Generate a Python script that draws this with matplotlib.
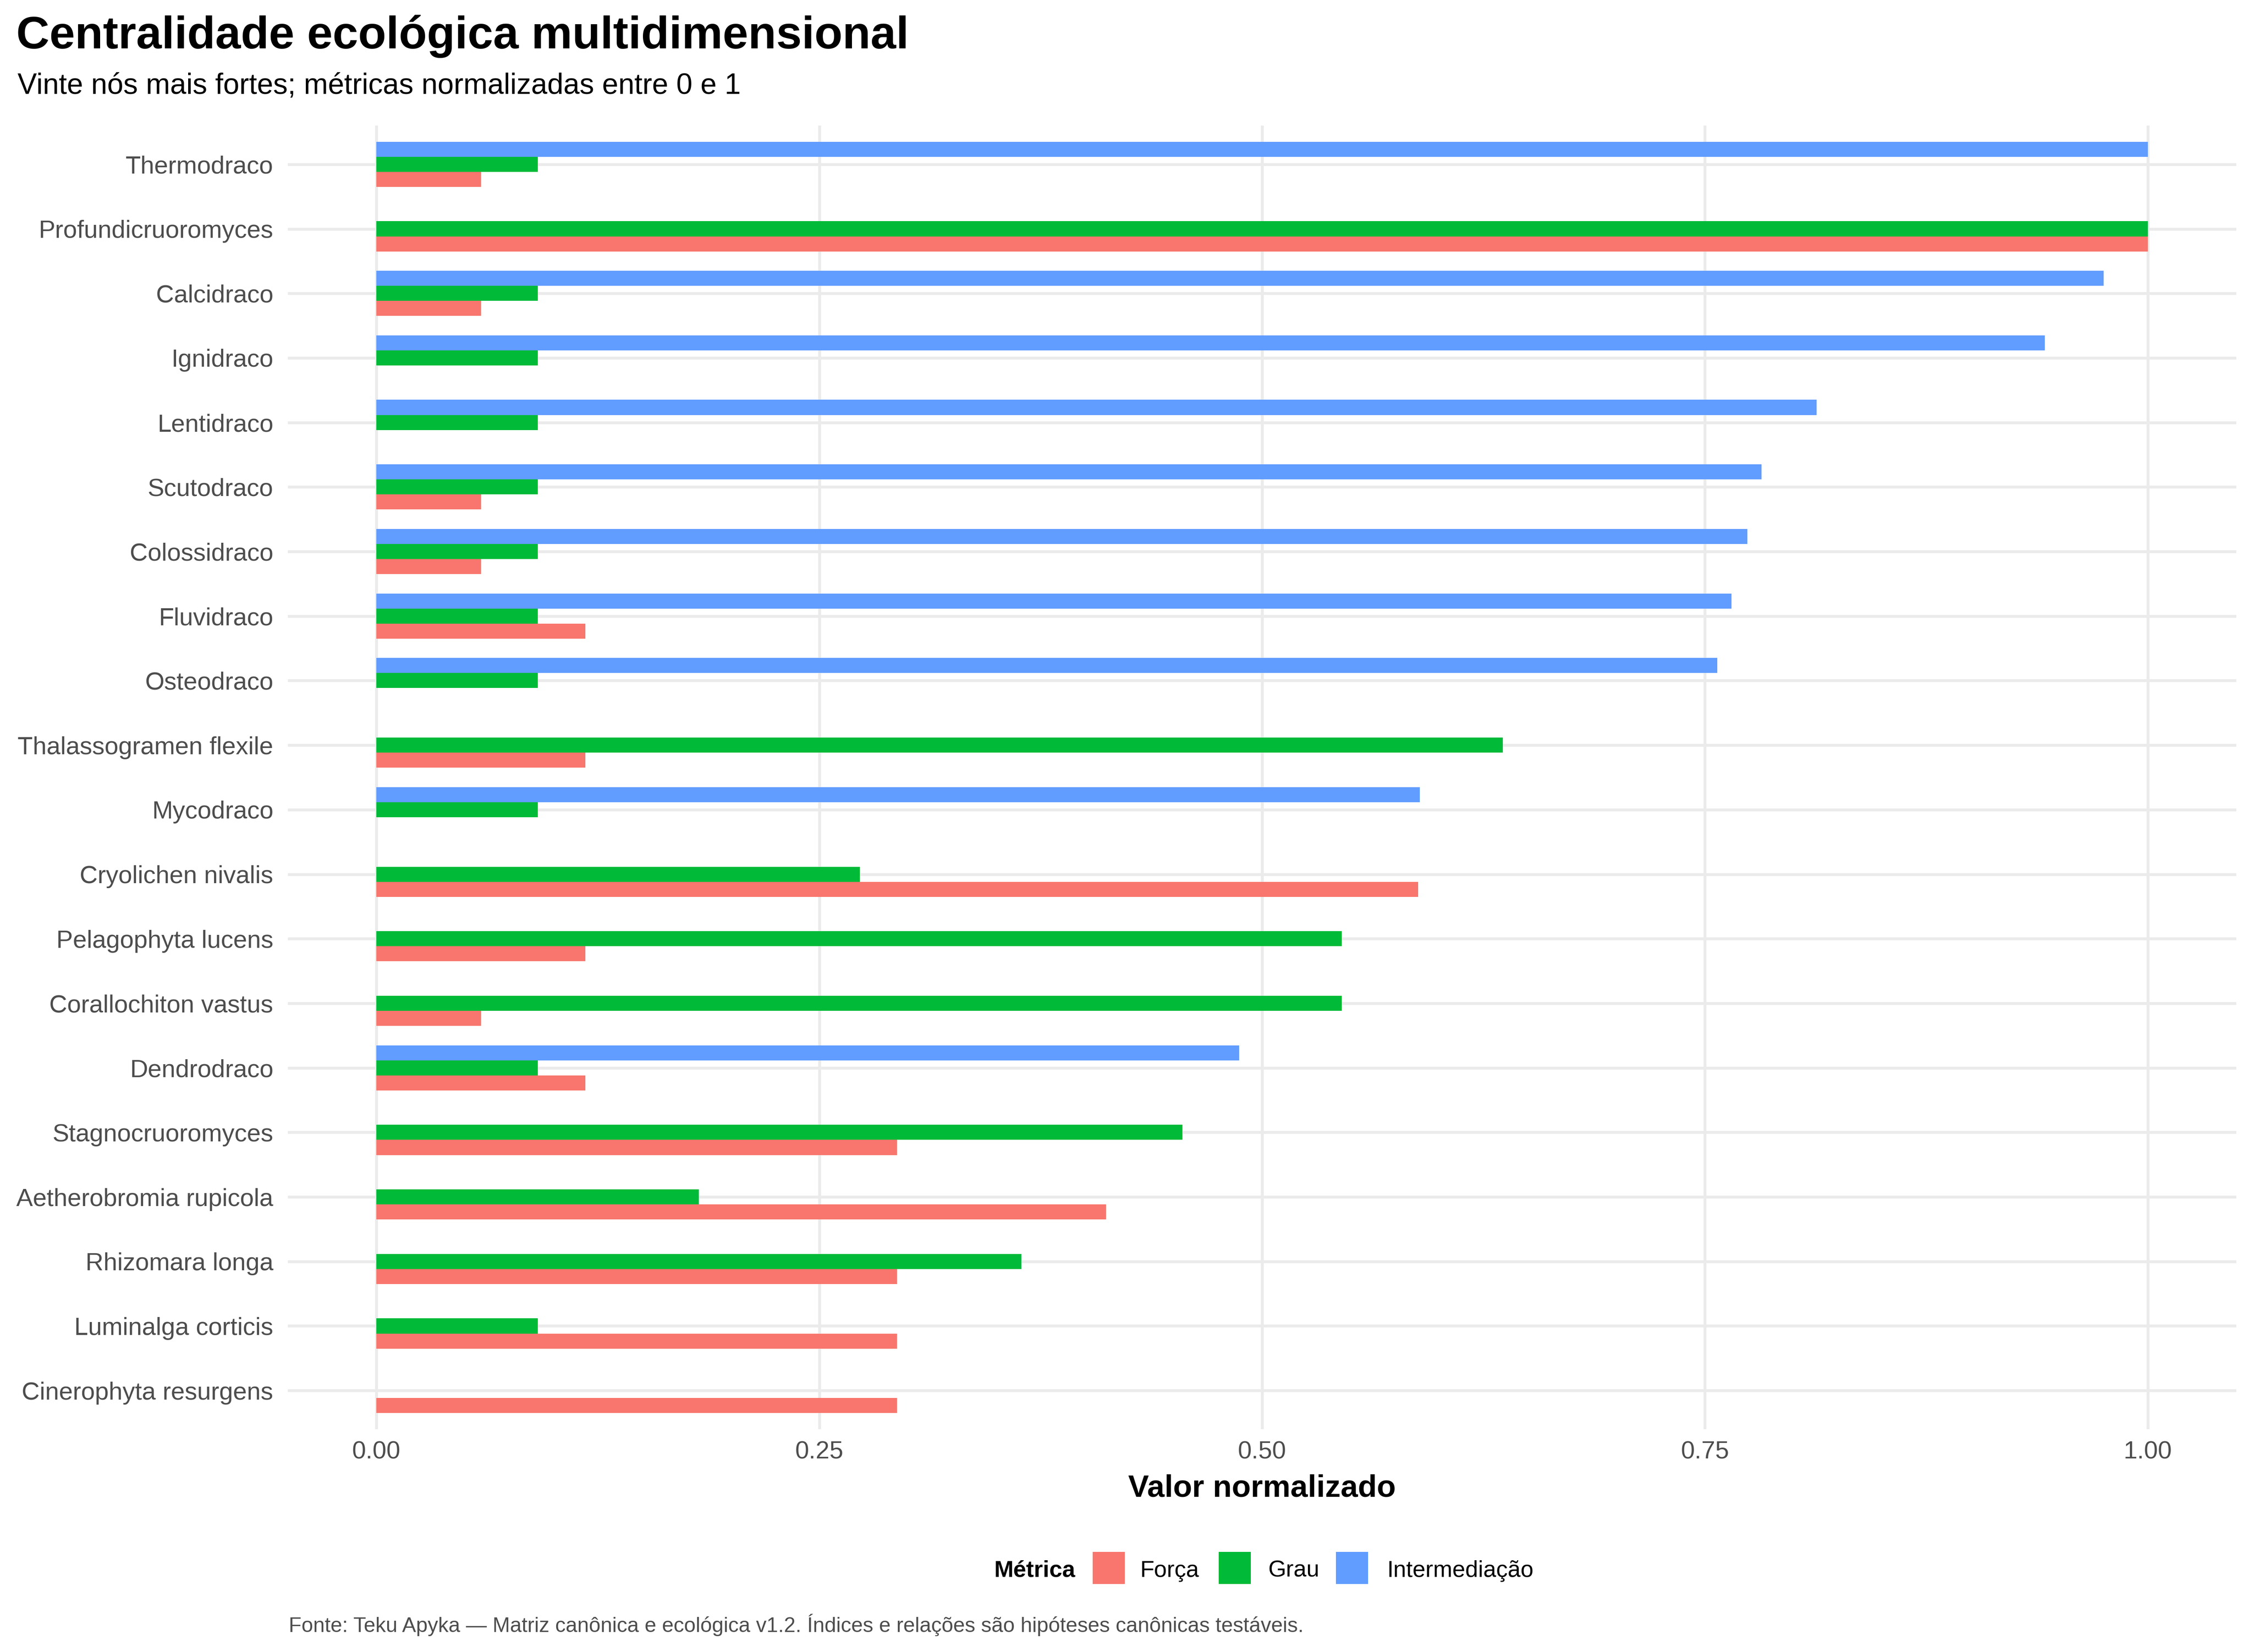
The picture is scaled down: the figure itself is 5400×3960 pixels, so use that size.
import numpy as np
import matplotlib
matplotlib.use("Agg")
import matplotlib.pyplot as plt
from matplotlib.patches import Rectangle

plt.rcParams['font.family'] = ['Liberation Sans', 'DejaVu Sans']

# top to bottom, as in the chart
nodes = ['Thermodraco', 'Profundicruoromyces', 'Calcidraco', 'Ignidraco',
         'Lentidraco', 'Scutodraco', 'Colossidraco', 'Fluvidraco',
         'Osteodraco', 'Thalassogramen flexile', 'Mycodraco',
         'Cryolichen nivalis', 'Pelagophyta lucens', 'Corallochiton vastus',
         'Dendrodraco', 'Stagnocruoromyces', 'Aetherobromia rupicola',
         'Rhizomara longa', 'Luminalga corticis', 'Cinerophyta resurgens']

forca = [0.059, 1.0, 0.059, 0.0, 0.0, 0.059, 0.059, 0.118, 0.0, 0.118,
         0.0, 0.588, 0.118, 0.059, 0.118, 0.294, 0.412, 0.294, 0.294, 0.294]
grau = [0.091, 1.0, 0.091, 0.091, 0.091, 0.091, 0.091, 0.091, 0.091, 0.636,
        0.091, 0.273, 0.545, 0.545, 0.091, 0.455, 0.182, 0.364, 0.091, 0.0]
intermed = [1.0, 0.0, 0.975, 0.942, 0.813, 0.782, 0.774, 0.765, 0.757, 0.0,
            0.589, 0.0, 0.0, 0.0, 0.487, 0.0, 0.0, 0.0, 0.0, 0.0]

metricas = ['Força', 'Grau', 'Intermediação']
cores = ['#F8766D', '#00BA38', '#619CFF']

W, H = 5400, 3960
DPI = 300
fig = plt.figure(figsize=(W / DPI, H / DPI), dpi=DPI)

def fx(px):
    return px / W

def fy(py):
    return 1 - py / H

ax = fig.add_axes([fx(690), fy(3426), fx(5360) - fx(690), fy(301) - fy(3426)])

n = len(nodes)
ypos = np.arange(n)[::-1]
bw = 0.7 / 3
for k, (vals, cor) in enumerate(zip([forca, grau, intermed], cores)):
    ax.barh(ypos + (k - 1) * bw, vals, height=bw, color=cor, linewidth=0, zorder=3)

ax.set_xlim(-0.05, 1.05)
ax.set_ylim(-0.6, n - 1 + 0.6)
xt = [0, 0.25, 0.5, 0.75, 1.0]
ax.set_xticks(xt)
ax.set_xticklabels(['0.00', '0.25', '0.50', '0.75', '1.00'])
ax.set_yticks(ypos)
ax.set_yticklabels(nodes)
ax.tick_params(length=0, labelsize=14.3, labelcolor='#4D4D4D')
ax.tick_params(axis='y', pad=8.4)
ax.tick_params(axis='x', pad=6.5)
ax.grid(True, color='#EBEBEB', linewidth=1.65, zorder=0)
ax.set_axisbelow(True)
for s in ax.spines.values():
    s.set_visible(False)

fig.text(fx(39), fy(116), 'Centralidade ecológica multidimensional',
         fontsize=26.4, fontweight='bold', va='baseline', ha='left')
fig.text(fx(42), fy(225), 'Vinte nós mais fortes; métricas normalizadas entre 0 e 1',
         fontsize=16.7, va='baseline', ha='left')
fig.text(fx(3025), fy(3588), 'Valor normalizado', fontsize=17.9,
         fontweight='bold', va='baseline', ha='center')

# legenda embaixo
fig.text(fx(2382), fy(3780), 'Métrica', fontsize=13.4, fontweight='bold',
         va='baseline', ha='left')
key_x = [2619, 2921, 3202]
lab_x = [2733, 3039, 3325]
for kx, lx, m, cor in zip(key_x, lab_x, metricas, cores):
    fig.patches.append(Rectangle((fx(kx), fy(3797)), fx(77), 77 / H,
                                 transform=fig.transFigure, color=cor, lw=0))
    fig.text(fx(lx), fy(3780), m, fontsize=13.3, va='baseline', ha='left')

fig.text(fx(692), fy(3912),
         'Fonte: Teku Apyka — Matriz canônica e ecológica v1.2. Índices e relações são hipóteses canônicas testáveis.',
         fontsize=12, color='#4D4D4D', va='baseline', ha='left')

fig.savefig('out.png', dpi=DPI, facecolor='white')
